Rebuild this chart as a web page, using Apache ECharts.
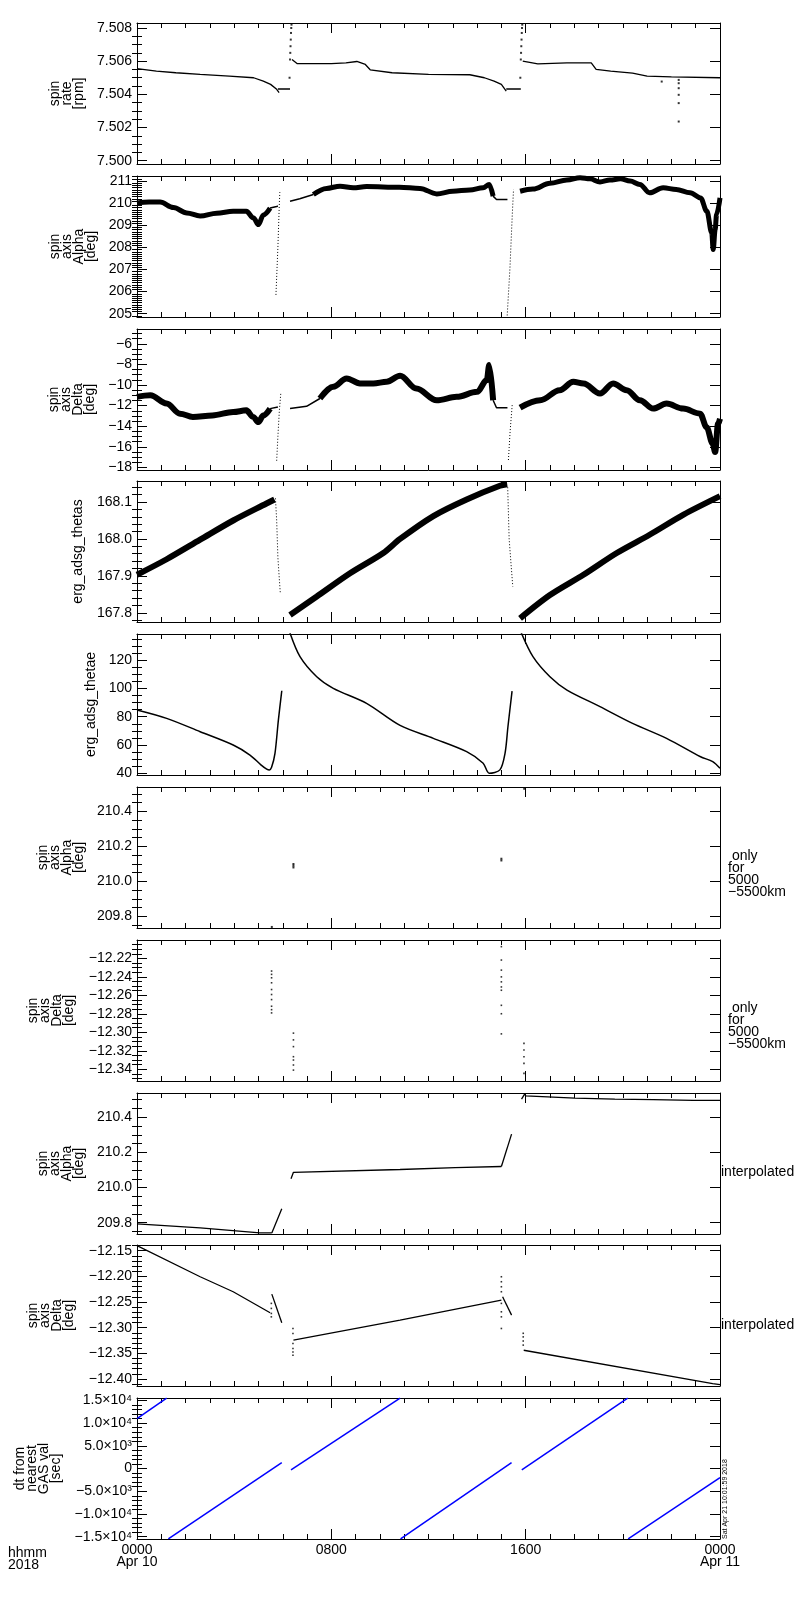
<!DOCTYPE html>
<html>
<head>
<meta charset="utf-8">
<script src="https://cdn.jsdelivr.net/npm/echarts@6.0.0/dist/echarts.min.js"></script>
<style>
html, body { margin: 0; padding: 0; background: #fff; }
#chart { width: 800px; height: 1600px; }
</style>
</head>
<body>
<div id="chart"></div>
<script>
// x is hours since 2018-04-10 00:00
const hourTicks = [0, 8, 16, 24];
const hourLabels = ['0000\nApr 10', '0800', '1600', '0000\nApr 11'];

// tick labels of each panel
const rateTicks = [7.500, 7.502, 7.504, 7.506, 7.508];
const alphaTicks = [205, 206, 207, 208, 209, 210, 211];
const deltaTicks = [-18, -16, -14, -12, -10, -8, -6];
const thetasTicks = [167.8, 167.9, 168.0, 168.1];
const thetaeTicks = [40, 60, 80, 100, 120];
const alphaFineTicks = [209.8, 210.0, 210.2, 210.4];
const deltaFineTicks = [-12.34, -12.32, -12.30, -12.28, -12.26, -12.24, -12.22];
const deltaInterpTicks = [-12.40, -12.35, -12.30, -12.25, -12.20, -12.15];
const dtTicks = [-15000, -10000, -5000, 0, 5000, 10000, 15000];

// spin rate [rpm]
const rateSeg1 = [[0,7.50555],[0.8,7.5054],[1.6,7.5053],[2.6,7.5052],[3.8,7.5051],[4.8,7.5050],[5.2,7.5048],[5.5,7.5046],[5.75,7.5043],[5.85,7.5041]];
const rateFlat1 = [[5.8,7.50432],[6.3,7.50432]];
const rateSpike1 = [[6.28,7.5050],[6.3,7.5061],[6.31,7.5065],[6.32,7.5069],[6.33,7.5073],[6.34,7.5077],[6.35,7.5080],[6.36,7.5082]];
const rateSeg2 = [[6.38,7.5061],[6.6,7.50585],[8.0,7.50585],[8.6,7.5059],[9.05,7.50598],[9.4,7.5058],[9.6,7.50548],[10.5,7.5053],[12.0,7.5052],[13.7,7.50518],[14.3,7.5050],[14.7,7.5048],[15.0,7.5046],[15.2,7.5042]];
const rateFlat2 = [[15.2,7.50432],[15.8,7.50432]];
const rateSpike2 = [[15.78,7.5050],[15.8,7.5061],[15.81,7.5065],[15.82,7.5069],[15.83,7.5073],[15.84,7.5077],[15.85,7.5080],[15.86,7.5082]];
const rateSeg3 = [[15.88,7.5060],[16.5,7.50583],[17.7,7.5059],[18.7,7.5059],[18.9,7.5055],[19.5,7.5054],[20.4,7.50528],[21.0,7.5051],[22.0,7.50505],[24.0,7.5050]];
const rateDrop = [[21.6,7.50477],[22.3,7.50487],[22.3,7.50467],[22.3,7.50437],[22.3,7.50397],[22.3,7.50347],[22.3,7.50236]];

// spin axis Alpha [deg]
const alphaA = [[0,210.01],[0.5,210.05],[0.95,210.05],[1.5,209.8],[2.05,209.56],[2.6,209.42],[3.28,209.55],[3.96,209.63],[4.5,209.63],[4.8,209.33],[5.0,209.03],[5.2,209.47],[5.48,209.78]];
const alphaThin1 = [[5.48,209.78],[5.75,209.85],[5.8,209.87]];
const alphaJump1 = [[5.72,205.85],[5.8,208.0],[5.86,210.0],[5.88,210.5]];
const alphaB = [[6.3,210.09],[6.7,210.2],[7.26,210.39]];
const alphaC = [[7.26,210.39],[7.8,210.67],[8.36,210.77],[8.9,210.7],[9.45,210.75],[10.8,210.72],[11.65,210.67],[12.34,210.42],[13.0,210.54],[13.7,210.6],[14.25,210.7],[14.5,210.85],[14.66,210.32]];
const alphaThin2 = [[14.66,210.32],[14.8,210.17],[15.25,210.17]];
const alphaJump2 = [[15.24,204.92],[15.35,207.0],[15.45,209.5],[15.5,210.62]];
const alphaD = [[15.77,210.54],[16.3,210.64],[17.0,210.9],[17.7,211.05],[18.24,211.15],[18.65,211.1],[19.06,210.96],[19.47,211.05],[19.9,211.1],[20.3,211.0],[20.7,210.85],[21.1,210.47],[21.66,210.7],[22.2,210.62],[22.77,210.47],[23.2,210.24],[23.46,209.63],[23.66,208.65],[23.72,207.9],[23.8,208.8],[23.86,209.5],[24,210.24]];

// spin axis Delta [deg]
const deltaA = [[0,-11.15],[0.55,-11.0],[1.22,-11.8],[1.77,-12.78],[2.3,-13.1],[3.1,-12.95],[3.96,-12.62],[4.5,-12.46],[4.78,-13.1],[5.0,-13.6],[5.2,-12.95],[5.48,-12.29]];
const deltaThin1 = [[5.48,-12.29],[5.8,-12.13]];
const deltaJump1 = [[5.75,-17.35],[5.8,-15.0],[5.86,-12.5],[5.92,-10.8]];
const deltaB = [[6.3,-12.29],[6.98,-12.07],[7.53,-11.31]];
const deltaC = [[7.53,-11.31],[8.08,-10.17],[8.63,-9.36],[9.18,-9.85],[9.73,-9.85],[10.28,-9.69],[10.83,-9.1],[11.5,-10.34],[12.34,-11.48],[13.16,-11.15],[14.0,-10.66],[14.4,-9.52],[14.5,-8.05],[14.66,-11.48]];
const deltaThin2 = [[14.66,-11.48],[14.8,-12.2],[15.25,-12.2]];
const deltaJump2 = [[15.29,-17.28],[15.36,-14.5],[15.45,-11.8]];
const deltaD = [[15.77,-12.2],[16.6,-11.48],[17.4,-10.5],[17.96,-9.69],[18.38,-9.85],[19.06,-10.82],[19.6,-9.85],[20.16,-10.5],[20.7,-11.48],[21.25,-12.29],[21.8,-11.8],[22.48,-12.29],[23.18,-12.78],[23.45,-14.1],[23.7,-15.7],[23.8,-16.5],[23.92,-13.77],[24,-13.27]];

// erg_adsg_thetas
const thetasA = [[0,167.903],[1.22,167.945],[2.6,167.998],[3.96,168.05],[5.33,168.096],[5.66,168.107]];
const thetasDrop1 = [[5.7,168.11],[5.75,168.05],[5.8,167.95],[5.85,167.9],[5.9,167.853]];
const thetasB = [[6.3,167.794],[7.4,167.844],[8.77,167.907],[10.14,167.962],[10.83,168.0],[12.2,168.062],[13.57,168.107],[14.94,168.144],[15.24,168.148]];
const thetasDrop2 = [[15.26,168.14],[15.32,168.0],[15.4,167.93],[15.47,167.871]];
const thetasC = [[15.77,167.785],[17.0,167.848],[18.38,167.903],[19.75,167.962],[21.12,168.012],[22.5,168.066],[24,168.116]];

// erg_adsg_thetae
const thetaeA = [[0,84.7],[1.22,78.8],[2.6,69.4],[3.96,60.0],[4.65,52.9],[5.1,46.0],[5.34,43.0],[5.45,42.4],[5.54,44.2],[5.68,54.1],[5.82,77.6],[5.96,98.3]];
const thetaeB = [[6.28,140],[6.71,122.4],[7.4,108.2],[8.08,100],[9.45,89.4],[10.83,73.8],[12.2,64.7],[13.57,55.3],[14.25,47.1],[14.5,40.0],[14.94,42.4],[15.15,54.1],[15.27,72.9],[15.44,98.1]];
const thetaeC = [[15.8,140],[16.3,122.4],[17.0,108.2],[17.7,98.8],[19.06,87.1],[20.4,75.3],[21.8,64.7],[23.2,51.7],[23.7,48.2],[24,43.5]];

// only for 5000-5500 km
const alphaOnly = [[6.44,210.08],[6.44,210.09],[6.44,210.1],[5.55,209.74],[15.0,210.12],[15.0,210.13],[15.94,210.53]];
const deltaOnly = [
  [5.54,-12.2337],[5.54,-12.2373],[5.54,-12.241],[5.54,-12.2464],[5.54,-12.2537],[5.54,-12.2591],[5.54,-12.2646],[5.54,-12.2718],[5.54,-12.2755],[5.54,-12.279],
  [6.44,-12.3009],[6.44,-12.3082],[6.44,-12.3155],[6.44,-12.3264],[6.44,-12.33],[6.44,-12.3354],[6.44,-12.3409],
  [15.0,-12.2073],[15.0,-12.2218],[15.0,-12.2327],[15.0,-12.24],[15.0,-12.2454],[15.0,-12.2509],[15.0,-12.2545],[15.0,-12.2708],[15.0,-12.2799],[15.0,-12.3017],
  [15.93,-12.312],[15.93,-12.3191],[15.93,-12.3264],[15.93,-12.3336],[15.93,-12.3445]
];

// interpolated Alpha
const alphaIntA = [[0,209.794],[2.6,209.771],[5.06,209.742],[5.55,209.742]];
const alphaIntB = [[5.55,209.742],[5.96,209.88]];
const alphaIntC = [[6.34,210.05],[6.44,210.087],[10.83,210.103],[13.1,210.113],[15.0,210.12]];
const alphaIntD = [[15.0,210.12],[15.42,210.304]];
const alphaIntE = [[15.83,210.503],[15.97,210.534],[16.0,210.522],[18.03,210.509],[19.67,210.503],[21.25,210.5],[22.9,210.496],[24,210.496]];

// interpolated Delta
const deltaIntA = [[0,-12.14],[2.6,-12.2008],[3.96,-12.23],[5.48,-12.271]];
const deltaIntB = [[5.55,-12.2346],[5.96,-12.2906]];
const deltaIntC = [[6.44,-12.3244],[10.83,-12.2854],[15.0,-12.2463]];
const deltaIntD = [[15.05,-12.2398],[15.42,-12.2756]];
const deltaIntE = [[15.92,-12.344],[23.7,-12.409],[24,-12.411]];
const deltaIntDots = [
  [5.53,-12.2527],[5.53,-12.2625],[5.53,-12.2723],[5.53,-12.2789],
  [6.42,-12.3016],[6.42,-12.3113],[6.42,-12.3309],[6.42,-12.3406],[6.42,-12.3473],[6.42,-12.3537],
  [15.0,-12.2008],[15.0,-12.2105],[15.0,-12.2203],[15.0,-12.230],[15.0,-12.2527],[15.0,-12.2691],[15.0,-12.2789],[15.0,-12.3016],
  [15.9,-12.311],[15.9,-12.318],[15.9,-12.326],[15.9,-12.334]
];

// dt from nearest GAS val [sec]
const dtSegs = [
  [[0,11000],[1.22,15500]],
  [[1.29,-15500],[5.96,1320]],
  [[6.34,-290],[10.83,15500]],
  [[10.85,-15500],[15.42,1320]],
  [[15.84,-300],[20.2,15500]],
  [[20.22,-15500],[24,-2000]]
];

const FONT = 'Liberation Sans';
const minus = s => s.replace('-', '\u2212');
const fixed = d => v => minus(v.toFixed(d));
function dtLabel(v) {
  if (v === 0) return '0';
  const a = Math.abs(v);
  const e = Math.floor(Math.log10(a) + 1e-9);
  const m = (a / Math.pow(10, e)).toFixed(1);
  const sup = { 3: '\u00b3', 4: '\u2074' }[e];
  return (v < 0 ? '\u2212' : '') + m + '\u00d710' + sup;
}

const panels = [
  { min: 7.4998, max: 7.5083, ticks: rateTicks, minor: 0.0005, name: 'spin\nrate\n[rpm]', gap: 52, fmt: fixed(3) },
  { min: 204.85, max: 211.23, ticks: alphaTicks, minor: 0.1, name: 'spin\naxis\nAlpha\n[deg]', gap: 39, fmt: fixed(0) },
  { min: -18.25, max: -4.56, ticks: deltaTicks, minor: 0.5, name: 'spin\naxis\nDelta\n[deg]', gap: 40, fmt: fixed(0) },
  { min: 167.775, max: 168.157, ticks: thetasTicks, minor: 0.02, name: 'erg_adsg_thetas', gap: 53, fmt: fixed(1) },
  { min: 38.8, max: 138.4, ticks: thetaeTicks, minor: 5, name: 'erg_adsg_thetae', gap: 40, fmt: fixed(0) },
  { min: 209.734, max: 210.54, ticks: alphaFineTicks, minor: 0.05, name: 'spin\naxis\nAlpha\n[deg]', gap: 52, fmt: fixed(1) },
  { min: -12.3527, max: -12.2001, ticks: deltaFineTicks, minor: 0.005, name: 'spin\naxis\nDelta\n[deg]', gap: 62, fmt: fixed(2) },
  { min: 209.736, max: 210.538, ticks: alphaFineTicks, minor: 0.05, name: 'spin\naxis\nAlpha\n[deg]', gap: 52, fmt: fixed(1) },
  { min: -12.4137, max: -12.1389, ticks: deltaInterpTicks, minor: 0.01, name: 'spin\naxis\nDelta\n[deg]', gap: 62, fmt: fixed(2) },
  { min: -15508, max: 15530, ticks: dtTicks, minor: 1000, name: 'dt from\nnearest\nGAS val\n[sec]', gap: 75, fmt: dtLabel }
];

function minorVals(p) {
  const out = [];
  const k0 = Math.ceil(p.min / p.minor - 1e-6), k1 = Math.floor(p.max / p.minor + 1e-6);
  for (let k = k0; k <= k1; k++) {
    const v = +(k * p.minor).toPrecision(10);
    if (!p.ticks.some(t => Math.abs(t - v) < p.minor * 1e-3)) out.push(v);
  }
  return out;
}

const grids = [], xAxes = [], yAxes = [];
const axisLine = { show: true, onZero: false, lineStyle: { color: '#000', width: 1 } };
panels.forEach((p, i) => {
  const last = i === panels.length - 1;
  grids.push({ left: 137, right: 80, top: Math.round(23 + 152.8 * i), height: 141, outerBoundsMode: 'none' });
  ['bottom', 'top'].forEach(pos => {
    xAxes.push({
      type: 'value', gridIndex: i, position: pos, min: 0, max: 24, interval: 8,
      axisLine: axisLine,
      axisTick: { show: true, inside: true, length: 10, lineStyle: { color: '#000' } },
      minorTick: { show: true, splitNumber: 8, length: 5, lineStyle: { color: '#000' } },
      splitLine: { show: false },
      axisLabel: {
        show: last && pos === 'bottom', margin: 5, fontSize: 14, lineHeight: 12, color: '#000', fontFamily: FONT,
        showMinLabel: true, showMaxLabel: true,
        formatter: v => hourLabels[hourTicks.indexOf(v)] || ''
      }
    });
  });
  const minors = minorVals(p);
  ['left', 'right'].forEach(pos => {
    yAxes.push({
      type: 'value', gridIndex: i, position: pos, min: p.min, max: p.max,
      axisLine: axisLine,
      axisTick: { show: true, inside: true, length: 10, customValues: p.ticks, lineStyle: { color: '#000' } },
      splitLine: { show: false },
      axisLabel: {
        show: pos === 'left', customValues: p.ticks, margin: 5, fontSize: 14, color: '#000', fontFamily: FONT,
        formatter: p.fmt
      },
      name: pos === 'left' ? p.name : '',
      nameLocation: 'middle', nameRotate: 90, nameGap: p.gap,
      nameTextStyle: { fontSize: 14, lineHeight: 12, color: '#000', fontFamily: FONT, align: 'center' }
    });
    yAxes.push({
      type: 'value', gridIndex: i, position: pos, min: p.min, max: p.max,
      axisLine: { show: false },
      axisTick: { show: true, inside: true, length: 5, customValues: minors, lineStyle: { color: '#000' } },
      splitLine: { show: false },
      axisLabel: { show: false }
    });
  });
});

const series = [];
function line(p, data, w, opt) {
  series.push(Object.assign({
    type: 'line', xAxisIndex: 2 * p, yAxisIndex: 4 * p, data: data, symbol: 'none',
    lineStyle: { color: '#000', width: w }, silent: true, animation: false
  }, opt || {}));
}
// noisy bands: monotone smoothing; steady curves: plain smoothing
function band(p, data, w) { line(p, data, w, { smooth: 0.35, smoothMonotone: 'x' }); }
function curve(p, data, w) { line(p, data, w, { smooth: 0.3 }); }
function dotted(p, data) {
  line(p, data, 1, { lineStyle: { color: '#000', width: 1, type: [1, 2] } });
}
function dots(p, data, size) {
  series.push({
    type: 'scatter', xAxisIndex: 2 * p, yAxisIndex: 4 * p, data: data, symbol: 'rect',
    symbolSize: size || 2, itemStyle: { color: '#000' }, silent: true, animation: false
  });
}

// panel 0: spin rate
[rateSeg1, rateFlat1, rateSeg2, rateFlat2, rateSeg3].forEach(d => line(0, d, 1.3));
dots(0, rateSpike1); dots(0, rateSpike2); dots(0, rateDrop);
// panel 1: alpha
[alphaA, alphaC, alphaD].forEach(d => band(1, d, 5));
[alphaThin1, alphaB, alphaThin2].forEach(d => line(1, d, 1.5));
dotted(1, alphaJump1); dotted(1, alphaJump2);
// panel 2: delta
[deltaA, deltaC, deltaD].forEach(d => band(2, d, 6));
[deltaThin1, deltaB, deltaThin2].forEach(d => line(2, d, 1.5));
dotted(2, deltaJump1); dotted(2, deltaJump2);
// panel 3: thetas
[thetasA, thetasB, thetasC].forEach(d => curve(3, d, 6));
dotted(3, thetasDrop1); dotted(3, thetasDrop2);
// panel 4: thetae
[thetaeA, thetaeB, thetaeC].forEach(d => curve(4, d, 1.5));
// panels 5, 6: only for 5000-5500 km
dots(5, alphaOnly, 2);
dots(6, deltaOnly, 1.6);
// panel 7: interpolated alpha
[alphaIntA, alphaIntB, alphaIntC, alphaIntD, alphaIntE].forEach(d => line(7, d, 1.3));
// panel 8: interpolated delta
[deltaIntA, deltaIntB, deltaIntC, deltaIntD, deltaIntE].forEach(d => line(8, d, 1.3));
dots(8, deltaIntDots, 1.6);
// panel 9: dt
dtSegs.forEach(d => line(9, d, 1.5, { lineStyle: { color: '#0000ff', width: 1.5 } }));

const txt = { fontSize: 14, lineHeight: 12, fill: '#000', fontFamily: FONT };
const chart = echarts.init(document.getElementById('chart'), null, { renderer: 'canvas' });
chart.setOption({
  backgroundColor: '#fff',
  animation: false,
  grid: grids,
  xAxis: xAxes,
  yAxis: yAxes,
  series: series,
  graphic: [
    { type: 'text', left: 8, top: 1546, style: Object.assign({ text: 'hhmm\n2018' }, txt) },
    { type: 'text', left: 728, top: 849, style: Object.assign({ text: ' only\nfor\n5000\n\u22125500km' }, txt) },
    { type: 'text', left: 728, top: 1001, style: Object.assign({ text: ' only\nfor\n5000\n\u22125500km' }, txt) },
    { type: 'text', left: 721, top: 1165, style: Object.assign({ text: 'interpolated' }, txt) },
    { type: 'text', left: 721, top: 1318, style: Object.assign({ text: 'interpolated' }, txt) },
    { type: 'text', x: 725, y: 1539, rotation: Math.PI / 2,
      style: { text: 'Sat Apr 21 10:01:59 2018', fontSize: 7, fill: '#000', fontFamily: FONT, textAlign: 'left', textVerticalAlign: 'middle' } }
  ]
});
</script>
</body>
</html>
